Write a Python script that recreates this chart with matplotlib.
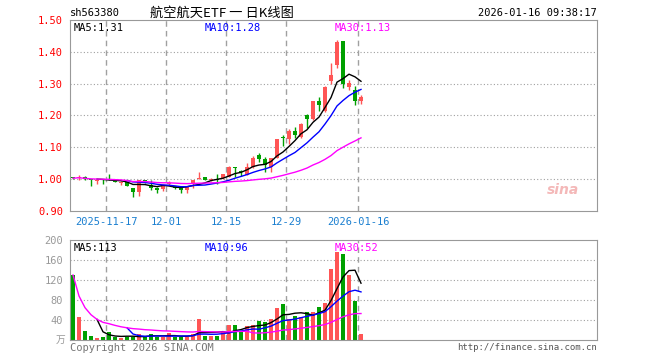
import numpy as np
import pandas as pd
import matplotlib
matplotlib.use("Agg")
import matplotlib.pyplot as plt

# daily candles, 2025-11-07 .. 2026-01-16
opens = [1.006, 1.003, 1.007, 1.000, 0.994, 0.999, 1.001, 0.999, 0.989, 0.990,
         0.972, 0.960, 0.997, 0.981, 0.973, 0.970, 0.985, 0.978, 0.976, 0.966,
         0.984, 1.001, 1.006, 0.996, 1.000, 1.004, 1.008, 1.037, 1.025, 1.014,
         1.039, 1.075, 1.064, 1.039, 1.068, 1.132, 1.126, 1.150, 1.131, 1.202,
         1.189, 1.247, 1.214, 1.308, 1.358, 1.434, 1.291, 1.281, 1.245]
highs = [1.008, 1.014, 1.010, 1.001, 0.999, 1.002, 1.017, 1.000, 0.995, 0.991,
         0.973, 0.998, 0.998, 0.997, 0.974, 0.979, 0.993, 0.979, 0.978, 0.979,
         0.998, 1.024, 1.007, 1.003, 1.016, 1.016, 1.041, 1.037, 1.030, 1.052,
         1.072, 1.081, 1.070, 1.068, 1.126, 1.140, 1.158, 1.163, 1.178, 1.205,
         1.247, 1.257, 1.294, 1.364, 1.437, 1.434, 1.312, 1.292, 1.265]
lows = [1.000, 0.996, 0.998, 0.977, 0.986, 0.986, 0.997, 0.990, 0.982, 0.977,
        0.945, 0.947, 0.989, 0.965, 0.957, 0.962, 0.981, 0.970, 0.957, 0.957,
        0.971, 1.000, 0.996, 0.995, 0.986, 1.002, 1.006, 1.007, 1.010, 1.012,
        1.036, 1.054, 1.023, 1.022, 1.066, 1.103, 1.112, 1.130, 1.128, 1.160,
        1.185, 1.214, 1.212, 1.300, 1.350, 1.286, 1.279, 1.233, 1.236]
closes = [1.003, 1.006, 0.999, 0.996, 0.997, 0.998, 0.997, 0.992, 0.991, 0.978,
          0.959, 0.997, 0.990, 0.972, 0.965, 0.978, 0.988, 0.971, 0.966, 0.978,
          0.997, 1.004, 0.997, 1.002, 0.997, 1.015, 1.039, 1.035, 1.021, 1.037,
          1.066, 1.063, 1.046, 1.065, 1.125, 1.128, 1.150, 1.138, 1.172, 1.188,
          1.245, 1.232, 1.289, 1.328, 1.430, 1.300, 1.302, 1.247, 1.258]
volumes = [130, 46, 18, 8, 4, 6, 16, 6, 4, 6,
           6, 12, 6, 12, 6, 6, 14, 6, 6, 6,
           12, 42, 8, 8, 8, 18, 30, 30, 18, 28,
           30, 38, 36, 42, 64, 72, 42, 48, 46, 56,
           56, 66, 74, 142, 176, 172, 130, 78, 12]

date_labels = ["2025-11-17", "12-01", "12-15", "12-29", "2026-01-16"]
date_index = [6, 16, 26, 36, 48]
price_ticks = [1.50, 1.40, 1.30, 1.20, 1.10, 1.00, 0.90]
vol_ticks = [200, 160, 120, 80, 40]

RED = "#ff5555"
GREEN = "#00a000"
GRID = "#a0a0a0"
MONO = "DejaVu Sans Mono"
CJK = ["Noto Sans CJK SC", "DejaVu Sans"]

df = pd.DataFrame({"o": opens, "h": highs, "l": lows, "c": closes, "v": volumes})
x = np.arange(len(df))
up = df.c >= df.o
colors = np.where(up, RED, GREEN)

ma5 = df.c.rolling(5).mean()
ma10 = df.c.rolling(10).mean()
ma30 = df.c.rolling(30, min_periods=1).mean()
vma5 = df.v.rolling(5).mean()
vma10 = df.v.rolling(10).mean()
vma30 = df.v.rolling(30, min_periods=1).mean()

fig = plt.figure(figsize=(6.6, 3.6), dpi=100)
ax = fig.add_axes([70/660, 1-211/360, 527/660, 191/360])
axv = fig.add_axes([70/660, 1-340/360, 527/660, 100/360])

xmax = (597 - 73) / 6
for a in (ax, axv):
    a.set_xlim(-0.5, xmax)
    for s in a.spines.values():
        s.set_color("#999999")
    a.tick_params(length=0)
    for i in date_index:
        a.axvline(i - 0.5, color=GRID, ls=(0, (4, 3)), lw=1, zorder=0)

# price panel
ax.set_ylim(0.9, 1.5)
for p in price_ticks[1:-1]:
    ax.axhline(p, color=GRID, ls=(0, (1, 2)), lw=0.8, zorder=0)
ax.vlines(x, df.l, df.h, colors=colors, lw=1, zorder=2)
body = np.maximum((df.c - df.o).abs(), 0.002)
ax.bar(x, body, bottom=np.minimum(df.o, df.c), width=0.78, color=colors, zorder=3)
ax.plot(x, ma5, color="black", lw=1, zorder=4)
ax.plot(x, ma10, color="blue", lw=1, zorder=4)
ax.plot(x, ma30, color="magenta", lw=1, zorder=4)
ax.set_yticks(price_ticks)
ax.set_yticklabels([f"{p:.2f}" for p in price_ticks], color="red",
                   fontfamily=MONO, fontsize=7.5)
ax.set_xticks([i - 0.5 for i in date_index])
ax.set_xticklabels(date_labels, color="#1a7fd0", fontfamily=MONO, fontsize=7.5)
ax.tick_params(axis="x", pad=4)
ax.tick_params(axis="y", pad=5)

ax.text(4/527, 0.985, "MA5:1.31", transform=ax.transAxes, va="top",
        fontfamily=MONO, fontsize=7.5, color="black")
ax.text(135/527, 0.985, "MA10:1.28", transform=ax.transAxes, va="top",
        fontfamily=MONO, fontsize=7.5, color="blue")
ax.text(265/527, 0.985, "MA30:1.13", transform=ax.transAxes, va="top",
        fontfamily=MONO, fontsize=7.5, color="magenta")
ax.text(0.935, 0.09, "sina", transform=ax.transAxes, ha="center",
        fontsize=10, fontstyle="italic", fontweight="bold", color="#f4b8b8")

# volume panel
axv.set_ylim(0, 200)
for v in vol_ticks[1:]:
    axv.axhline(v, color=GRID, ls=(0, (1, 2)), lw=0.8, zorder=0)
axv.bar(x, df.v, width=0.82, color=colors, zorder=2)
axv.plot(x, vma5, color="black", lw=1, zorder=3)
axv.plot(x, vma10, color="blue", lw=1, zorder=3)
axv.plot(x, vma30, color="magenta", lw=1, zorder=3)
axv.set_xticks([])
axv.set_yticks(vol_ticks)
axv.set_yticklabels([str(v) for v in vol_ticks], color="#999999",
                    fontfamily=MONO, fontsize=7.5)
axv.tick_params(axis="y", pad=5)
axv.text(-5/527, 0.0, "万", transform=axv.transAxes, ha="right", va="center",
         family=CJK, fontsize=7, color="#999999")
axv.text(4/527, 0.97, "MA5:113", transform=axv.transAxes, va="top",
         fontfamily=MONO, fontsize=7.5, color="black")
axv.text(135/527, 0.97, "MA10:96", transform=axv.transAxes, va="top",
         fontfamily=MONO, fontsize=7.5, color="blue")
axv.text(265/527, 0.97, "MA30:52", transform=axv.transAxes, va="top",
         fontfamily=MONO, fontsize=7.5, color="magenta")

# header and footer
fig.text(70/660, 1-13/360, "sh563380", fontfamily=MONO, fontsize=7.5, va="center")
fig.text(150/660, 1-13/360, "航空航天ETF 一 日K线图", family=CJK, fontsize=9.5,
         va="center")
fig.text(597/660, 1-13/360, "2026-01-16 09:38:17", fontfamily=MONO, fontsize=7.5,
         va="center", ha="right")
fig.text(70/660, 1-348/360, "Copyright 2026 SINA.COM", fontfamily=MONO,
         fontsize=7.5, va="center", color="#777777")
fig.text(597/660, 1-347/360, "http://finance.sina.com.cn", fontfamily=MONO,
         fontsize=6.5, va="center", ha="right", color="#555555")

fig.savefig("out.png", dpi=100)
